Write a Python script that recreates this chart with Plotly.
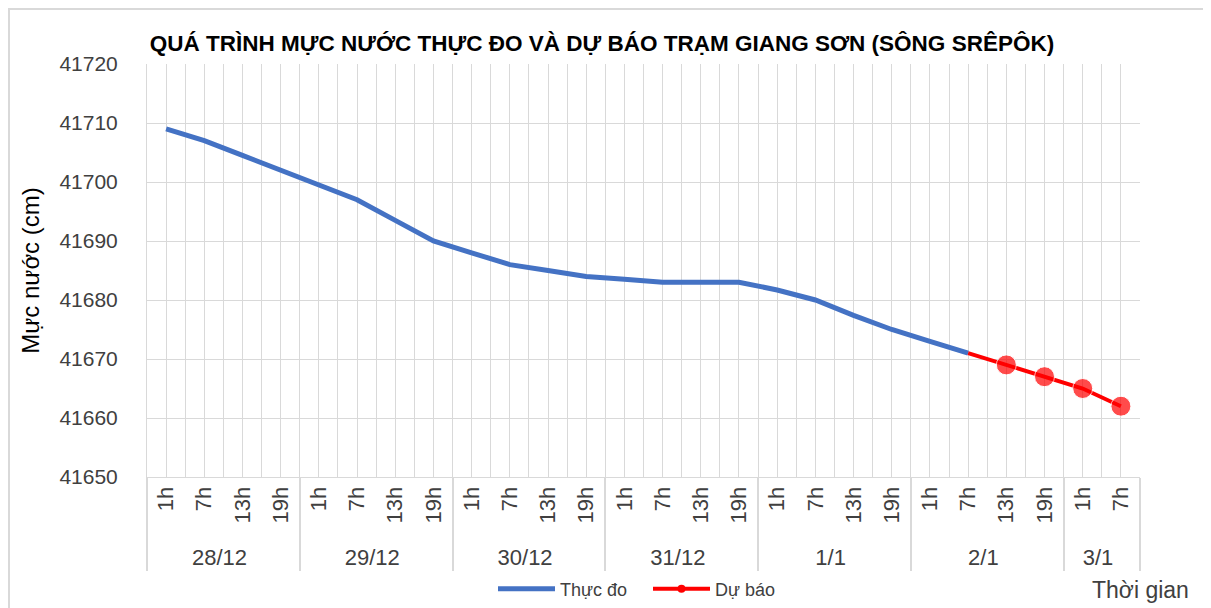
import plotly.graph_objects as go

days = ["28/12", "29/12", "30/12", "31/12", "1/1", "2/1", "3/1"]
hours_per_day = [["1h", "7h", "13h", "19h"]] * 6 + [["1h", "7h"]]

date_cat = []
hour_cat = []
for d, hs in zip(days, hours_per_day):
    for h in hs:
        date_cat.append(d)
        hour_cat.append(h)

observed = [41709, 41707, 41704.5, 41702, 41699.5, 41697, 41693.5, 41690,
            41688, 41686, 41685, 41684, 41683.5, 41683, 41683, 41683,
            41681.7, 41680, 41677.4, 41675, 41673, 41671]
forecast = [41671, 41669, 41667, 41665, 41662]
fc_start = len(observed) - 1

FONT = "Liberation Sans"
GRID = "#d9d9d9"
BLUE = "#4472c4"
RED = "#ff0000"
n = len(date_cat)

# page body adds an 8px offset; figure coordinates below compensate for it
L, T, PW, PH = 139, 56, 993, 413
W, H = 1211, 608

fig = go.Figure()
# helper trace that only carries the half-category grid axis
fig.add_trace(go.Scatter(x=[-0.5, n - 0.5], y=[None, None], xaxis="x2", yaxis="y",
                         mode="lines", showlegend=False, hoverinfo="skip"))
fig.add_trace(go.Scatter(
    x=[date_cat[:len(observed)], hour_cat[:len(observed)]], y=observed,
    mode="lines", name="Thực đo", legendrank=1,
    line=dict(color=BLUE, width=5)))
fig.add_trace(go.Scatter(
    x=[date_cat[fc_start:], hour_cat[fc_start:]], y=forecast,
    mode="lines+markers", name="Dự báo", showlegend=False,
    line=dict(color=RED, width=4),
    marker=dict(size=[0] + [20] * (len(forecast) - 1), color=RED)))
# legend entry for the forecast with the small legend marker
fig.add_trace(go.Scatter(
    x=[None], y=[None], mode="lines+markers", name="Dự báo", legendrank=2,
    line=dict(color=RED, width=4), marker=dict(size=8, color=RED),
    hoverinfo="skip"))

fig.update_layout(
    width=W, height=H,
    paper_bgcolor="white", plot_bgcolor="white",
    margin=dict(l=L, r=W - L - PW, t=T, b=H - T - PH),
    font=dict(family=FONT, color="#000000"),
    title=dict(text="<b>QUÁ TRÌNH MỰC NƯỚC THỰC ĐO VÀ DỰ BÁO TRẠM GIANG SƠN (SÔNG SRÊPÔK)</b>",
               x=594 / W, xref="container", xanchor="center",
               y=1 - 35 / H, yref="container", yanchor="middle",
               font=dict(size=22.5, family=FONT, color="#000000")),
    showlegend=True,
    legend=dict(orientation="h", x=640 / W, xref="container", xanchor="center",
                y=1 - 581 / H, yref="container", yanchor="middle",
                font=dict(size=18, family=FONT, color="#404040"),
                itemwidth=57, entrywidth=83, tracegroupgap=0,
                bgcolor="rgba(0,0,0,0)"),
    xaxis=dict(type="multicategory", showgrid=False, showline=True, linecolor=GRID,
               linewidth=1, tickangle=-90, tickfont=dict(size=22, color="#404040"),
               showdividers=True, dividercolor=GRID, dividerwidth=1.5,
               ticks="", range=[-0.5, n - 0.5], automargin=False),
    xaxis2=dict(overlaying="x", range=[-0.5, n - 0.5], tick0=-0.5, dtick=0.5,
                showgrid=True, gridcolor=GRID, gridwidth=1, showticklabels=False,
                zeroline=False, ticks="", automargin=False),
    yaxis=dict(range=[41650, 41720], dtick=10, tickformat="d", showgrid=True,
               gridcolor=GRID, gridwidth=1, showline=True, linecolor=GRID,
               zeroline=False, automargin=False,
               tickfont=dict(size=21, color="#404040"), ticks="",
               ticklabelstandoff=24,
               title=dict(text="Mực nước (cm)", font=dict(size=24, color="#000000"),
                          standoff=12)),
    annotations=[dict(text="Thời gian", x=1.0, y=(PH - (582 - T)) / PH,
                      xref="paper", yref="paper",
                      xanchor="center", yanchor="middle", showarrow=False,
                      font=dict(size=23, family=FONT, color="#404040"))],
    shapes=[dict(type="rect", xref="paper", yref="paper",
                 x0=(1 - L) / PW, x1=(1201 - L) / PW,
                 y0=(PH + T - 640) / PH, y1=(PH + T - 1) / PH,
                 line=dict(color=GRID, width=2), layer="below")],
)
fig.write_html("out.html")
